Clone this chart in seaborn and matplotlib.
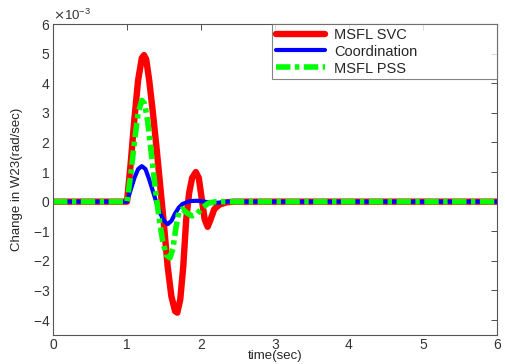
import numpy as np
import pandas as pd
import seaborn as sns
import matplotlib
matplotlib.use("Agg")
import matplotlib.pyplot as plt
from matplotlib.ticker import ScalarFormatter

# values (y in rad/sec)
t_svc = [0, 1.0, 1.05, 1.10, 1.15, 1.20, 1.23, 1.26, 1.30, 1.35, 1.40, 1.45, 1.50, 1.55, 1.60,
         1.65, 1.68, 1.72, 1.76, 1.80, 1.84, 1.88, 1.93, 1.97, 2.01, 2.05, 2.09, 2.13, 2.18,
         2.25, 2.35, 2.45, 6.0]
y_svc = [0, 0, 1.3, 2.8, 4.1, 4.85, 4.95, 4.8, 4.1, 3.0, 1.8, 0.5, -0.8, -2.2, -3.2,
         -3.7, -3.75, -3.3, -2.2, -0.6, 0.3, 0.8, 1.0, 0.8, 0.1, -0.6, -0.85, -0.6, -0.25,
         -0.1, -0.02, 0, 0]

t_coord = [0, 1.0, 1.05, 1.10, 1.15, 1.20, 1.25, 1.30, 1.35, 1.40, 1.45, 1.50, 1.55, 1.60,
           1.65, 1.70, 1.75, 1.85, 1.95, 2.05, 2.15, 2.25, 2.35, 6.0]
y_coord = [0, 0, 0.4, 0.8, 1.1, 1.2, 1.1, 0.75, 0.35, -0.05, -0.4, -0.65, -0.76, -0.65,
           -0.4, -0.2, -0.08, 0.02, 0.03, 0.0, -0.05, -0.03, 0, 0]

t_pss = [0, 1.0, 1.05, 1.10, 1.15, 1.20, 1.24, 1.28, 1.33, 1.38, 1.43, 1.48, 1.53, 1.58,
         1.62, 1.66, 1.70, 1.75, 1.82, 1.88, 1.95, 2.02, 2.10, 2.20, 6.0]
y_pss = [0, 0, 0.9, 2.0, 3.0, 3.42, 3.3, 2.7, 1.6, 0.5, -0.5, -1.3, -1.8, -1.9,
         -1.6, -0.9, -0.35, -0.25, -0.4, -0.48, -0.4, -0.2, -0.05, 0, 0]

labels = ["MSFL SVC", "Coordination", "MSFL PSS"]

sns.set_style("white")
plt.rcParams['font.family'] = ['Liberation Sans', 'DejaVu Sans']
plt.rcParams['axes.unicode_minus'] = False

fig = plt.figure(figsize=(5.05, 3.64), dpi=100)
ax = fig.add_axes([0.105, 0.08, 0.879, 0.854])

sns.lineplot(x=t_svc, y=np.array(y_svc) * 1e-3, ax=ax, color="#ff0000", lw=4.6,
             label=labels[0], solid_capstyle="round", solid_joinstyle="round")
sns.lineplot(x=t_coord, y=np.array(y_coord) * 1e-3, ax=ax, color="#0000ff", lw=3.0,
             label=labels[1], solid_capstyle="round")
line = sns.lineplot(x=t_pss, y=np.array(y_pss) * 1e-3, ax=ax, color="#00ff00", lw=4.0,
                    label=labels[2]).lines[-1]
line.set_dashes((2.6, 0.8, 0.8, 0.8))

ax.set_xlim(0, 6)
ax.set_ylim(-4.5e-3, 6e-3)
ax.set_xticks(range(0, 7))
ax.set_yticks(np.arange(-4, 7) * 1e-3)
fmt = ScalarFormatter(useMathText=True)
fmt.set_powerlimits((-3, -3))
ax.yaxis.set_major_formatter(fmt)
ax.yaxis.get_offset_text().set_fontsize(9.5)

ax.tick_params(direction="in", top=True, right=True, length=4, width=0.6,
               labelsize=10, colors="#333333", pad=2)
for s in ax.spines.values():
    s.set_color("#555555")
    s.set_linewidth(0.8)

ax.set_xlabel("time(sec)", fontsize=9.5, labelpad=-1)
ax.set_ylabel("Change in W23(rad/sec)", fontsize=9.5, labelpad=7)

leg = ax.legend(loc="upper right", fontsize=10.5, frameon=True, fancybox=False,
                bbox_to_anchor=(0.493, 0.0, 0.507, 1.0), mode="expand",
                borderaxespad=0.0, handlelength=3.4, handletextpad=0.6,
                labelspacing=0.2, borderpad=0.25)
leg.get_frame().set_edgecolor("#666666")
leg.get_frame().set_linewidth(0.8)

fig.savefig("out.png", dpi=100)
